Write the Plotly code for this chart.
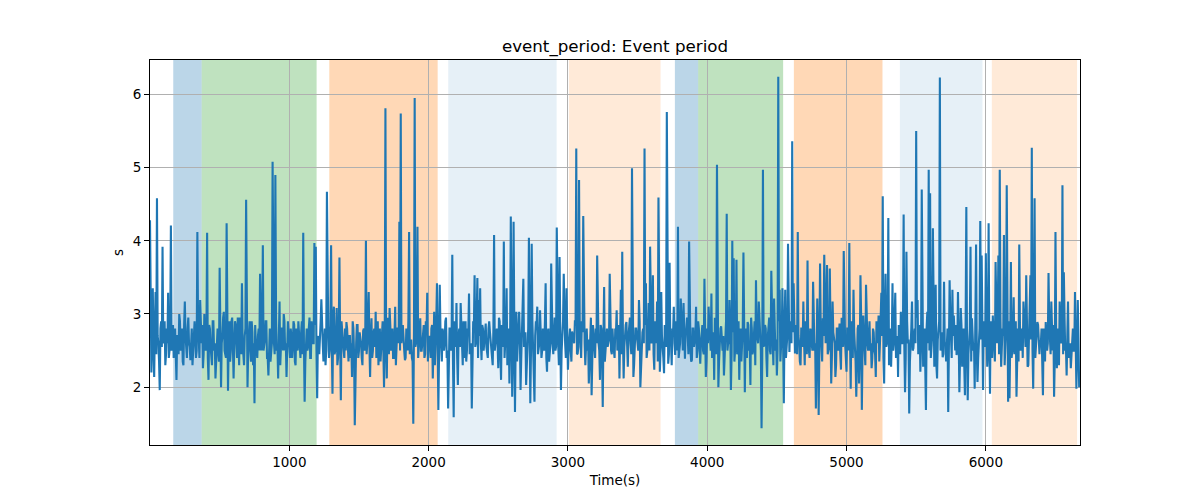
import plotly.graph_objects as go

# ---- data ----
DT = 10  # seconds between main samples; one extra sample sits between each pair
event_period_main = [
    4.28,2.2,3.35,2.14,3.3,4.58,2.6,1.96,2.9,3.92,2.6,2.3,2.8,3.29,2.5,4.21,2.6,2.4,2.8,2.1,
    2.7,3.0,2.5,2.8,2.3,3.17,2.5,2.8,2.6,2.37,2.8,2.5,2.9,2.4,4.12,2.6,3.19,2.6,2.26,3.0,
    2.5,4.11,2.1,2.8,2.4,2.9,2.5,2.12,2.8,2.5,3.63,2.0,2.7,3.03,2.4,4.24,1.95,2.9,2.5,2.95,
    2.12,2.9,2.5,2.95,2.3,2.8,3.42,2.5,2.7,4.56,2.0,2.8,2.5,2.9,2.3,1.78,2.6,2.4,2.8,3.55,
    2.5,3.94,2.6,2.9,2.4,2.16,2.8,2.5,5.08,2.6,4.9,2.5,2.12,3.17,2.6,2.8,3.0,2.5,2.14,2.9,
    2.5,2.8,2.4,2.9,2.35,2.8,2.5,2.7,2.4,2.9,4.11,1.8,2.7,2.5,2.8,2.4,2.9,2.6,3.97,3.92,
    1.85,2.7,2.9,3.2,2.6,2.8,2.3,4.67,2.7,2.5,3.94,1.91,3.1,2.5,3.08,2.4,3.77,1.82,2.7,2.5,
    2.8,2.89,2.5,2.7,2.4,2.14,2.8,1.48,2.6,2.85,2.5,2.7,2.4,2.77,2.5,4.0,2.6,3.3,2.14,2.94,
    2.5,2.8,3.03,2.5,2.3,2.8,2.5,2.9,2.0,5.81,2.12,2.8,3.08,2.5,2.8,2.4,3.1,2.6,2.8,4.26,
    5.74,2.76,2.5,2.37,2.8,2.5,4.12,2.6,2.4,1.5,5.95,2.6,4.19,2.6,2.94,2.5,2.8,2.4,2.9,3.29,
    2.6,2.66,2.8,2.12,3.03,2.5,3.42,1.69,3.4,2.6,2.8,2.5,2.9,2.4,1.71,2.8,2.5,3.81,1.59,2.8,
    3.15,2.03,2.8,3.15,2.5,2.9,2.4,2.35,2.8,3.28,2.5,1.71,2.9,3.53,2.6,3.49,3.19,3.35,2.37,2.8,
    2.6,2.87,2.5,2.8,2.76,2.5,2.3,4.08,2.6,2.8,2.26,2.9,2.1,2.7,3.99,2.6,3.35,2.4,2.05,4.33,
    1.87,4.26,1.66,3.03,2.6,3.03,1.96,2.8,3.48,2.6,2.03,2.8,4.04,1.78,3.96,2.5,1.8,2.9,3.1,2.5,
    3.05,2.4,2.8,2.5,3.42,2.21,2.8,2.5,3.69,2.6,2.89,2.5,4.18,2.6,3.78,1.96,2.8,3.55,2.6,3.35,
    2.24,2.8,2.5,2.76,2.6,2.9,5.26,2.46,4.83,2.6,2.9,4.34,2.6,2.8,2.5,2.05,2.8,1.89,2.85,2.5,
    2.8,3.8,2.6,2.1,2.8,1.73,3.37,2.5,2.8,2.6,3.55,2.5,2.8,2.44,2.8,3.05,2.6,2.12,3.33,3.85,
    2.12,2.8,2.89,2.28,2.8,2.6,4.99,2.14,2.7,2.8,2.5,3.19,2.0,2.44,2.8,5.26,3.42,2.5,3.15,3.92,
    2.6,3.53,2.24,2.8,3.17,4.59,2.21,3.3,2.6,2.19,2.8,5.76,2.32,3.7,2.6,2.8,3.1,2.44,2.8,4.19,
    2.6,3.21,2.5,3.15,2.39,2.8,2.6,3.99,2.5,2.37,2.8,2.6,3.1,2.5,2.8,2.32,2.7,2.5,3.48,2.14,
    2.8,3.1,2.5,3.28,2.6,2.1,2.8,5.04,2.0,2.7,2.83,2.5,2.16,2.8,4.37,2.6,3.19,1.96,4.0,3.76,
    2.6,3.74,2.5,2.1,2.8,2.5,3.84,1.93,2.8,2.89,2.5,2.03,2.8,2.5,2.9,3.46,2.6,3.17,2.5,1.44,
    4.97,2.6,2.8,2.14,2.8,2.5,3.59,2.6,3.21,2.5,2.16,6.24,3.33,2.6,3.35,1.78,3.33,2.6,3.96,2.48,
    2.8,5.36,3.42,2.46,2.8,4.12,2.6,2.3,2.8,3.17,2.3,2.8,3.73,2.53,2.8,2.6,3.44,2.5,1.71,3.21,
    1.62,3.69,2.6,2.94,3.81,2.6,3.67,2.5,3.62,2.05,3.17,2.6,2.14,2.8,2.5,2.87,2.24,2.8,3.86,2.6,
    2.21,2.8,3.97,1.98,2.8,3.33,2.6,1.87,2.8,2.05,3.53,1.69,2.98,2.5,3.4,2.6,2.8,2.5,2.26,2.8,
    2.5,2.14,2.8,2.98,2.6,3.29,4.61,2.05,3.55,2.6,4.31,2.5,2.28,3.42,2.6,3.29,2.5,2.14,2.8,3.03,
    2.6,4.36,1.93,3.85,2.6,1.64,2.8,3.17,2.53,2.8,5.5,3.19,2.6,2.21,4.7,2.28,2.8,1.69,3.03,4.97,
    4.65,2.6,4.17,2.28,3.4,2.12,2.8,6.23,2.6,2.41,3.44,2.6,2.8,1.66,3.46,2.6,3.33,2.98,2.5,2.44,
    3.3,1.93,3.08,2.28,2.8,1.89,4.46,1.82,2.8,3.92,2.94,2.5,1.98,3.95,2.07,2.8,4.27,3.8,1.96,2.8,
    3.83,2.28,4.24,1.91,2.8,2.98,2.5,3.71,2.6,3.8,4.97,2.28,2.8,4.08,2.6,4.76,1.8,1.85,3.71,2.5,
    3.23,2.6,1.87,2.8,3.95,2.5,2.8,3.17,2.6,3.53,2.28,2.8,3.53,5.27,1.98,4.58,2.6,2.89,2.5,2.64,
    2.8,1.89,2.7,2.89,2.5,3.56,2.6,3.17,2.5,1.87,4.12,2.26,2.8,3.17,2.6,4.76,3.57,2.5,2.16,3.17,
    2.6,2.26,2.8,2.5,3.3,1.98,3.19,2.0,
]
# baseline samples that sit between consecutive main samples
event_period_mid = [
    2.6,2.75,2.5,2.85,2.45,2.7,2.35,2.8,2.55,2.65,2.9,2.45,2.6,2.4,2.75,2.5,2.85,2.6,2.45,2.7,
    2.45,2.9,2.6,2.35,2.85,2.7,2.4,2.95,2.55,2.75,2.3,2.8,2.65,2.5,2.9,2.4,2.7,2.85,2.45,2.6,
    2.7,2.4,2.85,2.55,2.3,2.9,2.6,2.45,2.8,2.35,2.75,2.6,2.95,2.5,2.4,2.8,2.65,2.35,2.9,2.55,
    2.55,2.85,2.4,2.7,2.95,2.45,2.6,2.3,2.8,2.65,2.5,2.9,2.35,2.75,2.6,2.85,2.4,2.7,2.5,2.9,
    2.8,2.5,2.65,2.9,2.4,2.75,2.35,2.6,2.85,2.45,2.95,2.55,2.7,2.3,2.8,2.5,2.9,2.6,2.4,2.75,
    2.4,2.7,2.55,2.85,2.3,2.65,2.9,2.5,2.75,2.45,2.6,2.35,2.8,2.55,2.95,2.4,2.7,2.6,2.85,2.5,
    2.65,2.45,2.9,2.6,2.35,2.8,2.5,2.7,2.4,2.85,2.55,2.95,2.45,2.65,2.3,2.75,2.6,2.9,2.5,2.4,
    2.5,2.8,2.35,2.7,2.6,2.9,2.45,2.55,2.85,2.4,2.75,2.6,2.3,2.8,2.65,2.45,2.95,2.55,2.7,2.4,
    2.75,2.55,2.4,2.9,2.65,2.35,2.8,2.5,2.7,2.6,2.95,2.45,2.85,2.55,2.4,2.7,2.3,2.8,2.6,2.5,
    2.6,2.85,2.5,2.4,2.75,2.95,2.45,2.65,2.35,2.8,2.55,2.7,2.4,2.9,2.5,2.6,2.85,2.45,2.75,2.35,
    2.7,2.4,2.85,2.55,2.3,2.9,2.6,2.45,2.8,2.35,2.75,2.6,2.95,2.5,2.4,2.8,2.65,2.35,2.9,2.55,
    2.4,2.7,2.55,2.85,2.3,2.65,2.9,2.5,2.75,2.45,2.6,2.35,2.8,2.55,2.95,2.4,2.7,2.6,2.85,2.5,
    2.75,2.55,2.4,2.9,2.65,2.35,2.8,2.5,2.7,2.6,2.95,2.45,2.85,2.55,2.4,2.7,2.3,2.8,2.6,2.5,
    2.45,2.9,2.6,2.35,2.85,2.7,2.4,2.95,2.55,2.75,2.3,2.8,2.65,2.5,2.9,2.4,2.7,2.85,2.45,2.6,
    2.8,2.5,2.65,2.9,2.4,2.75,2.35,2.6,2.85,2.45,2.95,2.55,2.7,2.3,2.8,2.5,2.9,2.6,2.4,2.75,
    2.5,2.8,2.35,2.7,2.6,2.9,2.45,2.55,2.85,2.4,2.75,2.6,2.3,2.8,2.65,2.45,2.95,2.55,2.7,2.4,
    2.6,2.75,2.5,2.85,2.45,2.7,2.35,2.8,2.55,2.65,2.9,2.45,2.6,2.4,2.75,2.5,2.85,2.6,2.45,2.7,
    2.55,2.85,2.4,2.7,2.95,2.45,2.6,2.3,2.8,2.65,2.5,2.9,2.35,2.75,2.6,2.85,2.4,2.7,2.5,2.9,
    2.65,2.45,2.9,2.6,2.35,2.8,2.5,2.7,2.4,2.85,2.55,2.95,2.45,2.65,2.3,2.75,2.6,2.9,2.5,2.4,
    2.6,2.85,2.5,2.4,2.75,2.95,2.45,2.65,2.35,2.8,2.55,2.7,2.4,2.9,2.5,2.6,2.85,2.45,2.75,2.35,
    2.6,2.85,2.5,2.4,2.75,2.95,2.45,2.65,2.35,2.8,2.55,2.7,2.4,2.9,2.5,2.6,2.85,2.45,2.75,2.35,
    2.65,2.45,2.9,2.6,2.35,2.8,2.5,2.7,2.4,2.85,2.55,2.95,2.45,2.65,2.3,2.75,2.6,2.9,2.5,2.4,
    2.55,2.85,2.4,2.7,2.95,2.45,2.6,2.3,2.8,2.65,2.5,2.9,2.35,2.75,2.6,2.85,2.4,2.7,2.5,2.9,
    2.6,2.75,2.5,2.85,2.45,2.7,2.35,2.8,2.55,2.65,2.9,2.45,2.6,2.4,2.75,2.5,2.85,2.6,2.45,2.7,
    2.5,2.8,2.35,2.7,2.6,2.9,2.45,2.55,2.85,2.4,2.75,2.6,2.3,2.8,2.65,2.45,2.95,2.55,2.7,2.4,
    2.8,2.5,2.65,2.9,2.4,2.75,2.35,2.6,2.85,2.45,2.95,2.55,2.7,2.3,2.8,2.5,2.9,2.6,2.4,2.75,
    2.45,2.9,2.6,2.35,2.85,2.7,2.4,2.95,2.55,2.75,2.3,2.8,2.65,2.5,2.9,2.4,2.7,2.85,2.45,2.6,
    2.75,2.55,2.4,2.9,2.65,2.35,2.8,2.5,2.7,2.6,2.95,2.45,2.85,2.55,2.4,2.7,2.3,2.8,2.6,2.5,
    2.4,2.7,2.55,2.85,2.3,2.65,2.9,2.5,2.75,2.45,2.6,2.35,2.8,2.55,2.95,2.4,2.7,2.6,2.85,2.5,
    2.7,2.4,2.85,2.55,2.3,2.9,2.6,2.45,2.8,2.35,2.75,2.6,2.95,2.5,2.4,2.8,2.65,2.35,2.9,2.55,
    2.8,2.5,2.65,2.9,2.4,2.75,2.35,2.6,2.85,2.45,2.95,2.55,2.7,2.3,2.8,2.5,2.9,2.6,2.4,2.75,
    2.45,2.9,2.6,2.35,2.85,2.7,2.4,2.95,2.55,2.75,2.3,2.8,2.65,2.5,2.9,2.4,2.7,2.85,2.45,2.6,
    2.5,2.8,2.35,2.7,2.6,2.9,2.45,2.55,2.85,2.4,2.75,2.6,2.3,2.8,2.65,2.45,2.95,2.55,2.7,2.4,
    2.6,2.45,2.8,2.5,2.7,2.4,2.65,
]

# interleave main and in-between samples (spacing DT/2)
event_period = []
for i, v in enumerate(event_period_main):
    event_period.append(v)
    if i < len(event_period_mid):
        event_period.append(event_period_mid[i])
time_s = [i * DT / 2 for i in range(len(event_period))]

# shaded periods: (start, end, kind)
span_starts = [167, 371, 1287, 2141, 3007, 3768, 3935, 4622, 5383, 6043]
span_ends   = [371, 1196, 2065, 2919, 3665, 3935, 4545, 5258, 5976, 6655]
span_kinds  = ["blue", "green", "orange", "lightblue", "lightorange",
               "blue", "green", "orange", "lightblue", "lightorange"]

x_ticks = [1000, 2000, 3000, 4000, 5000, 6000]
y_ticks = [2, 3, 4, 5, 6]

title_text = "event_period: Event period"
x_label = "Time(s)"
y_label = "s"

# ---- styling ----
span_colors = {
    "blue": "rgba(31,119,180,0.3)",
    "green": "rgba(44,160,44,0.3)",
    "orange": "rgba(255,127,14,0.3)",
    "lightblue": "rgba(31,119,180,0.11)",
    "lightorange": "rgba(255,127,14,0.16)",
}
FONT = "DejaVu Sans"

fig = go.Figure()
fig.add_trace(go.Scatter(
    x=time_s, y=event_period, mode="lines",
    line=dict(color="#1f77b4", width=2.1),
    showlegend=False, hoverinfo="skip",
))

for s, e, k in zip(span_starts, span_ends, span_kinds):
    fig.add_shape(type="rect", xref="x", yref="paper", x0=s, x1=e, y0=0, y1=1,
                  fillcolor=span_colors[k], line=dict(width=0), layer="below")

axis_common = dict(
    showline=True, linecolor="black", linewidth=1.1, mirror=True,
    ticks="outside", ticklen=5, tickwidth=1.1, tickcolor="black",
    showgrid=True, gridcolor="#b0b0b0", gridwidth=1.1,
    zeroline=False, tickfont=dict(family=FONT, size=13.5, color="black"),
)

fig.update_xaxes(range=[0, 6676], tickvals=x_ticks,
                 ticktext=[str(t) for t in x_ticks],
                 title=dict(text=x_label, font=dict(family=FONT, size=13.5, color="black"), standoff=6),
                 **axis_common)
fig.update_yaxes(range=[1.21, 6.47], tickvals=y_ticks,
                 ticktext=[str(t) for t in y_ticks],
                 title=dict(text=y_label, font=dict(family=FONT, size=13.5, color="black"), standoff=5),
                 **axis_common)

# the page body adds an 8px offset, so margins are shifted to compensate
fig.update_layout(
    width=1200, height=500,
    margin=dict(l=142, r=128, t=52, b=63),
    paper_bgcolor="white", plot_bgcolor="white",
    title=dict(text=title_text, x=607/1200, xanchor="center", y=1-38/500, yanchor="middle",
               font=dict(family=FONT, size=16.7, color="black")),
    font=dict(family=FONT, color="black"),
)

fig.write_html("out.html")
